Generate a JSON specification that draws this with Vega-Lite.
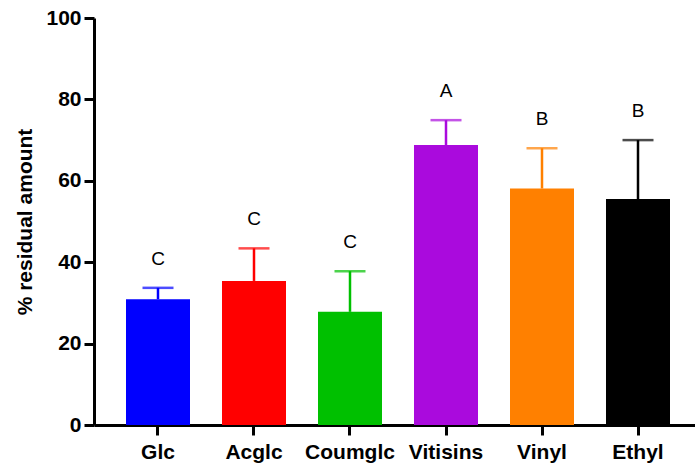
{
  "$schema": "https://vega.github.io/schema/vega-lite/v6.json",
  "width": 600,
  "height": 407,
  "autosize": {"type": "none"},
  "padding": {"left": 94, "top": 18, "right": 1, "bottom": 38},
  "background": "white",
  "config": {
    "view": {"stroke": null},
    "font": "Liberation Sans",
    "axis": {"grid": false}
  },
  "data": {
    "values": [
      {"compound": "Glc", "mean": 30.9, "upper": 33.7, "group": "C", "color": "#0000FF"},
      {"compound": "Acglc", "mean": 35.4, "upper": 43.4, "group": "C", "color": "#FF0000"},
      {"compound": "Coumglc", "mean": 27.8, "upper": 37.8, "group": "C", "color": "#00C000"},
      {"compound": "Vitisins", "mean": 68.8, "upper": 74.9, "group": "A", "color": "#AA0ADD"},
      {"compound": "Vinyl", "mean": 58.1, "upper": 68.0, "group": "B", "color": "#FF8000"},
      {"compound": "Ethyl", "mean": 55.5, "upper": 70.0, "group": "B", "color": "#000000"}
    ]
  },
  "encoding": {
    "x": {
      "field": "compound",
      "type": "nominal",
      "sort": null,
      "scale": {"range": [0, 608], "paddingInner": 0.3333, "paddingOuter": 0.3333},
      "axis": {
        "title": null,
        "labelAngle": 0,
        "labelFont": "Liberation Sans",
        "labelFontSize": 21,
        "labelFontWeight": "bold",
        "labelColor": "black",
        "labelPadding": 6,
        "domainColor": "black",
        "domainWidth": 3,
        "tickColor": "black",
        "tickWidth": 3,
        "tickSize": 10
      }
    }
  },
  "layer": [
    {
      "mark": {"type": "bar"},
      "encoding": {
        "y": {
          "field": "mean",
          "type": "quantitative",
          "scale": {"domain": [0, 100], "nice": false},
          "axis": {
            "title": "% residual amount",
            "titleFont": "Liberation Sans",
            "titleFontSize": 21,
            "titleFontWeight": "bold",
            "titleColor": "black",
            "titlePadding": 10,
            "values": [0, 20, 40, 60, 80, 100],
            "labelFont": "Liberation Sans",
            "labelFontSize": 21,
            "labelFontWeight": "bold",
            "labelColor": "black",
            "labelPadding": 3,
            "domainColor": "black",
            "domainWidth": 3,
            "tickColor": "black",
            "tickWidth": 3,
            "tickSize": 10
          }
        },
        "color": {"field": "color", "type": "nominal", "scale": null, "legend": null}
      }
    },
    {
      "mark": {"type": "rule", "strokeWidth": 2.5},
      "encoding": {
        "y": {"field": "mean", "type": "quantitative"},
        "y2": {"field": "upper"},
        "color": {"field": "color", "type": "nominal", "scale": null, "legend": null}
      }
    },
    {
      "mark": {"type": "tick", "size": 31, "thickness": 2.5, "orient": "horizontal"},
      "encoding": {
        "y": {"field": "upper", "type": "quantitative"},
        "color": {"field": "color", "type": "nominal", "scale": null, "legend": null}
      }
    },
    {
      "mark": {"type": "text", "fontSize": 19, "font": "Liberation Sans", "baseline": "middle", "dy": -29, "color": "black"},
      "encoding": {
        "y": {"field": "upper", "type": "quantitative"},
        "text": {"field": "group", "type": "nominal"}
      }
    }
  ]
}
